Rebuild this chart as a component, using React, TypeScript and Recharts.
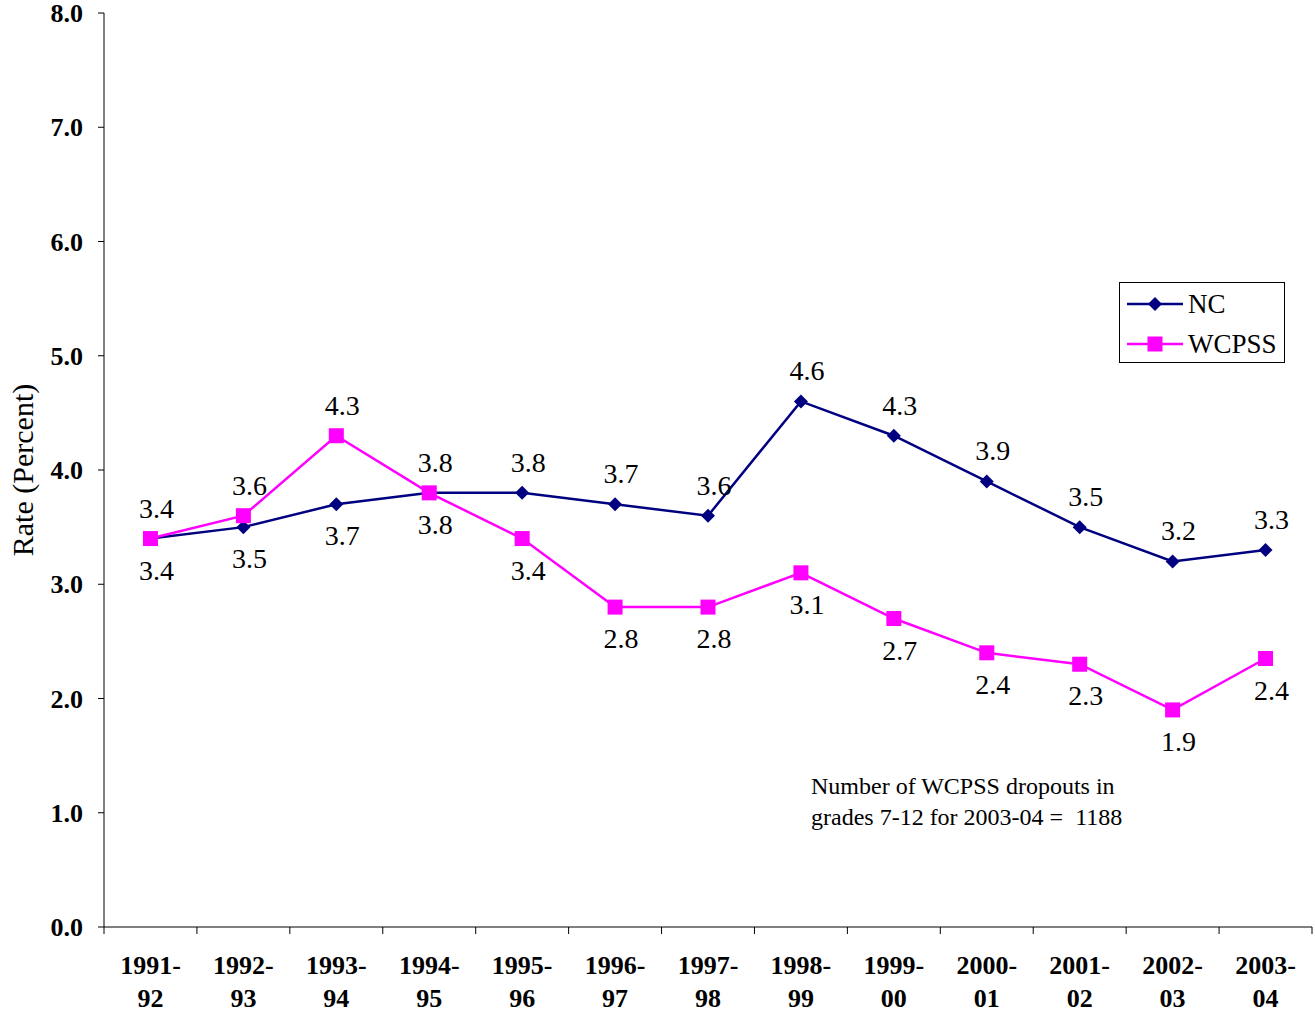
import { LineChart, Line, XAxis, YAxis, Legend, LabelList } from "recharts";

const periods = [
  "1991-92", "1992-93", "1993-94", "1994-95", "1995-96", "1996-97", "1997-98",
  "1998-99", "1999-00", "2000-01", "2001-02", "2002-03", "2003-04",
];
const ncRates = [3.4, 3.5, 3.7, 3.8, 3.8, 3.7, 3.6, 4.6, 4.3, 3.9, 3.5, 3.2, 3.3];
const wcpssRates = [3.4, 3.6, 4.3, 3.8, 3.4, 2.8, 2.8, 3.1, 2.7, 2.4, 2.3, 1.9, 2.35];
const yTicks = [0, 1, 2, 3, 4, 5, 6, 7, 8];
const noteLines = ["Number of WCPSS dropouts in", "grades 7-12 for 2003-04 =  1188"];

const NAVY = "#000080";
const MAGENTA = "#ff00ff";
const FONT = "'Liberation Serif', 'Times New Roman', serif";
// before this index the NC labels sit under the points, WCPSS above
const SWAP_AT = 3;

const data = periods.map((p, i) => ({ i, period: p, nc: ncRates[i], wcpss: wcpssRates[i] }));
const xTicks = [...periods.flatMap((_, i) => [i - 0.5, i]), periods.length - 0.5];

function Diamond({ cx, cy, r = 7, fill = NAVY }: any) {
  return (
    <polygon
      points={`${cx},${cy - r} ${cx + r},${cy} ${cx},${cy + r} ${cx - r},${cy}`}
      fill={fill}
    />
  );
}

function Square({ cx, cy, s = 15, fill = MAGENTA }: any) {
  return <rect x={cx - s / 2} y={cy - s / 2} width={s} height={s} fill={fill} />;
}

function XTick({ x, y, payload }: any) {
  const v = payload.value;
  if (!Number.isInteger(v)) {
    return <line x1={x} x2={x} y1={y} y2={y + 7} stroke="#000" strokeWidth={1} />;
  }
  const [a, b] = periods[v].split("-");
  return (
    <text x={x} y={y} textAnchor="middle" fontFamily={FONT} fontWeight="bold" fontSize={26} fill="#000">
      <tspan x={x} dy={47}>{a}-</tspan>
      <tspan x={x} dy={33}>{b}</tspan>
    </text>
  );
}

function pointLabel(below: (i: number) => boolean) {
  return (props: any) => {
    const { x, y, value, index } = props;
    const down = below(index);
    return (
      <text
        x={x + 6}
        y={down ? y + 41 : y - 21}
        textAnchor="middle"
        fontFamily={FONT}
        fontSize={28}
        fill="#000"
      >
        {Number(value).toFixed(1)}
      </text>
    );
  };
}

function LegendBox({ payload }: any) {
  return (
    <div
      style={{
        border: "1px solid #000",
        background: "#fff",
        width: 164,
        height: 78,
        boxSizing: "content-box",
        fontFamily: FONT,
        fontSize: 27,
        paddingTop: 1,
      }}
    >
      {(payload || []).map((e: any) => (
        <div key={e.value} style={{ display: "flex", alignItems: "center", height: 40 }}>
          <svg width={68} height={20} style={{ marginLeft: 7 }}>
            <line x1={0} x2={56} y1={10} y2={10} stroke={e.color} strokeWidth={2.5} />
            {e.dataKey === "nc" ? <Diamond cx={28} cy={10} /> : <Square cx={28} cy={10} />}
          </svg>
          <span style={{ marginLeft: -7 }}>{e.value}</span>
        </div>
      ))}
    </div>
  );
}

function YTitle({ viewBox }: any) {
  const cy = viewBox.y + viewBox.height / 2;
  return (
    <text
      x={33}
      y={cy}
      transform={`rotate(-90 33 ${cy})`}
      textAnchor="middle"
      fontFamily={FONT}
      fontSize={30}
      fill="#000"
    >
      Rate (Percent)
    </text>
  );
}

export default function App() {
  return (
    <div style={{ position: "absolute", left: 0, top: 0, width: 1315, height: 1015, background: "#fff" }}>
      <LineChart width={1315} height={1015} data={data} margin={{ top: 13, right: 3, bottom: 0, left: 0 }}>
        <XAxis
          dataKey="i"
          type="number"
          domain={[-0.5, periods.length - 0.5]}
          ticks={xTicks}
          interval={0}
          height={88}
          tickLine={false}
          tickSize={0}
          tickMargin={0}
          tick={<XTick />}
          stroke="#000"
        />
        <YAxis
          domain={[0, 8]}
          ticks={yTicks}
          interval={0}
          width={104}
          tickSize={6}
          tickMargin={15}
          tickFormatter={(v: number) => v.toFixed(1)}
          tick={{ fontFamily: FONT, fontWeight: "bold", fontSize: 26, fill: "#000" }}
          stroke="#000"
          label={<YTitle />}
        />
        <Legend
          layout="horizontal"
          verticalAlign="middle"
          align="center"
          content={<LegendBox />}
          wrapperStyle={{ position: "absolute", left: 1119, top: 282, width: 166, height: 80 }}
        />
        <Line
          dataKey="nc"
          name="NC"
          type="linear"
          stroke={NAVY}
          strokeWidth={2.5}
          isAnimationActive={false}
          dot={(p: any) => <Diamond key={`nc-${p.index}`} cx={p.cx} cy={p.cy} />}
          activeDot={false}
        >
          <LabelList dataKey="nc" content={pointLabel((i) => i < SWAP_AT)} />
        </Line>
        <Line
          dataKey="wcpss"
          name="WCPSS"
          type="linear"
          stroke={MAGENTA}
          strokeWidth={2.5}
          isAnimationActive={false}
          dot={(p: any) => <Square key={`w-${p.index}`} cx={p.cx} cy={p.cy} />}
          activeDot={false}
        >
          <LabelList dataKey="wcpss" content={pointLabel((i) => i >= SWAP_AT)} />
        </Line>
      </LineChart>
      <div
        style={{
          position: "absolute",
          left: 811,
          top: 771,
          fontFamily: FONT,
          fontSize: 24,
          lineHeight: "31px",
          whiteSpace: "pre",
        }}
      >
        {noteLines.map((t) => (
          <div key={t}>{t}</div>
        ))}
      </div>
    </div>
  );
}
